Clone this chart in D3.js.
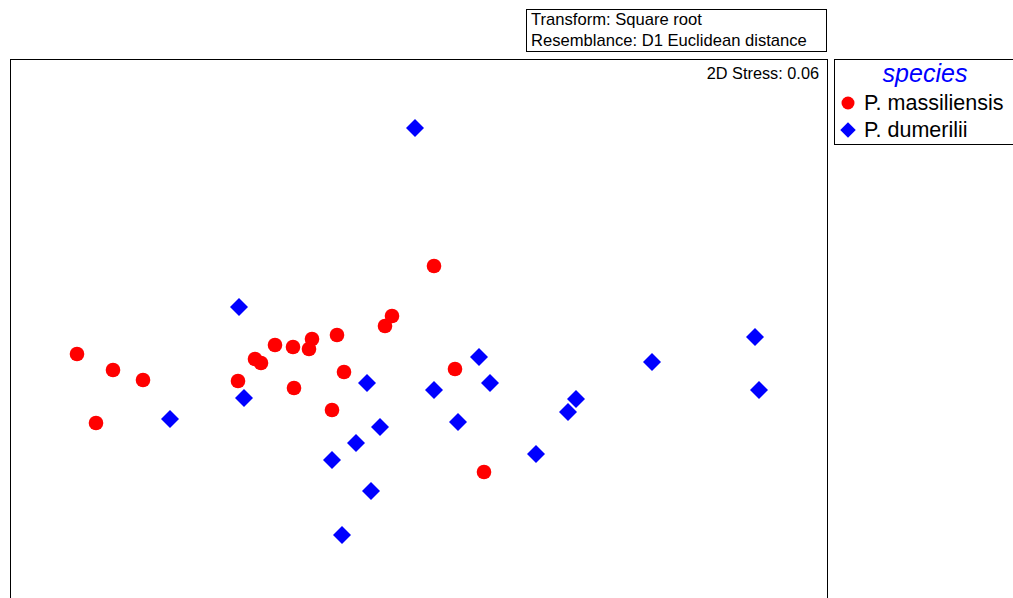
<!DOCTYPE html>
<html>
<head>
<meta charset="utf-8">
<script src="https://cdn.jsdelivr.net/npm/d3@7"></script>
<style>
  body { margin: 0; background: #fff; }
  svg { display: block; font-family: "Liberation Sans", Arial, sans-serif; }
</style>
</head>
<body>
<div id="vis"></div>
<script>
// nMDS ordination, two species groups
var species = ['P. massiliensis', 'P. dumerilii'];
var colors = ['#ff0000', '#0000ff'];

// MDS coordinates
var massX = [-1.705, -1.525, -1.375, -1.61, -0.90, -0.815, -0.785, -0.715, -0.625, -0.53,
             -0.545, -0.405, -0.62, -0.37, -0.43, -0.165, -0.13, 0.08, 0.185, 0.33];
var massY = [-0.12, -0.20, -0.25, -0.465, -0.255, -0.145, -0.165, -0.075, -0.085, -0.045,
             -0.095, -0.025, -0.29, -0.21, -0.40, 0.02, 0.07, 0.32, -0.195, -0.71];
var dumX = [-0.015, -0.895, -0.87, -1.24, -0.255, -0.19, -0.31, -0.43, -0.235, -0.38,
            0.08, 0.20, 0.305, 0.36, 0.59, 0.75, 0.79, 1.17, 1.685, 1.705];
var dumY = [1.01, 0.115, -0.34, -0.445, -0.265, -0.485, -0.565, -0.65, -0.805, -1.025,
            -0.30, -0.46, -0.135, -0.265, -0.62, -0.41, -0.345, -0.16, -0.035, -0.30];

var infoLines = ['Transform: Square root', 'Resemblance: D1 Euclidean distance'];
var stressLabel = '2D Stress: 0.06';

var W = 1013, H = 598;
var plot = {left: 10, top: 59, right: 827, bottom: 598};

var svg = d3.select('#vis').append('svg')
    .attr('width', W)
    .attr('height', H);

var xScale = d3.scaleLinear().domain([-2.04, 2.045]).range([plot.left, plot.right]);
var yScale = d3.scaleLinear().domain([1.355, -1.34]).range([plot.top, plot.bottom]);

// plot frame (bottom runs off the page)
svg.append('rect')
    .attr('x', plot.left + 0.5)
    .attr('y', plot.top + 0.5)
    .attr('width', plot.right - plot.left)
    .attr('height', H)
    .attr('fill', 'none')
    .attr('stroke', '#000')
    .attr('stroke-width', 1);

// info box above the plot
svg.append('rect')
    .attr('x', 526.5).attr('y', 9.5)
    .attr('width', 300).attr('height', 42)
    .attr('fill', '#fff').attr('stroke', '#000');
svg.selectAll('.info')
    .data(infoLines)
    .enter().append('text')
    .attr('class', 'info')
    .attr('x', 531)
    .attr('y', function(d, i) { return 25 + i * 21; })
    .attr('font-size', 16.6)
    .text(function(d) { return d; });

svg.append('text')
    .attr('x', 819)
    .attr('y', 79)
    .attr('text-anchor', 'end')
    .attr('font-size', 16.3)
    .text(stressLabel);

var diamond = d3.symbol().type(d3.symbolSquare);

function pts(xs, ys) {
    return xs.map(function(x, i) { return {x: x, y: ys[i]}; });
}

var g = svg.append('g');

g.selectAll('.dum')
    .data(pts(dumX, dumY))
    .enter().append('path')
    .attr('class', 'dum')
    .attr('d', diamond.size(162)())
    .attr('transform', function(d) {
        return 'translate(' + xScale(d.x) + ',' + yScale(d.y) + ') rotate(45)';
    })
    .attr('fill', colors[1]);

g.selectAll('.mass')
    .data(pts(massX, massY))
    .enter().append('circle')
    .attr('class', 'mass')
    .attr('cx', function(d) { return xScale(d.x); })
    .attr('cy', function(d) { return yScale(d.y); })
    .attr('r', 7.3)
    .attr('fill', colors[0]);

// legend
var lg = svg.append('g');
lg.append('rect')
    .attr('x', 834.5).attr('y', 59.5)
    .attr('width', 190).attr('height', 85)
    .attr('fill', '#fff').attr('stroke', '#000');
lg.append('text')
    .attr('x', 925).attr('y', 82)
    .attr('text-anchor', 'middle')
    .attr('font-size', 25)
    .attr('font-style', 'italic')
    .attr('fill', '#0000ff')
    .text('species');

lg.append('circle')
    .attr('cx', 848).attr('cy', 103).attr('r', 6.5)
    .attr('fill', colors[0]);
lg.append('path')
    .attr('d', diamond.size(120)())
    .attr('transform', 'translate(848,130) rotate(45)')
    .attr('fill', colors[1]);

lg.selectAll('.leg')
    .data(species)
    .enter().append('text')
    .attr('class', 'leg')
    .attr('x', 864)
    .attr('y', function(d, i) { return 110 + i * 27; })
    .attr('font-size', 21.5)
    .text(function(d) { return d; });
</script>
</body>
</html>
